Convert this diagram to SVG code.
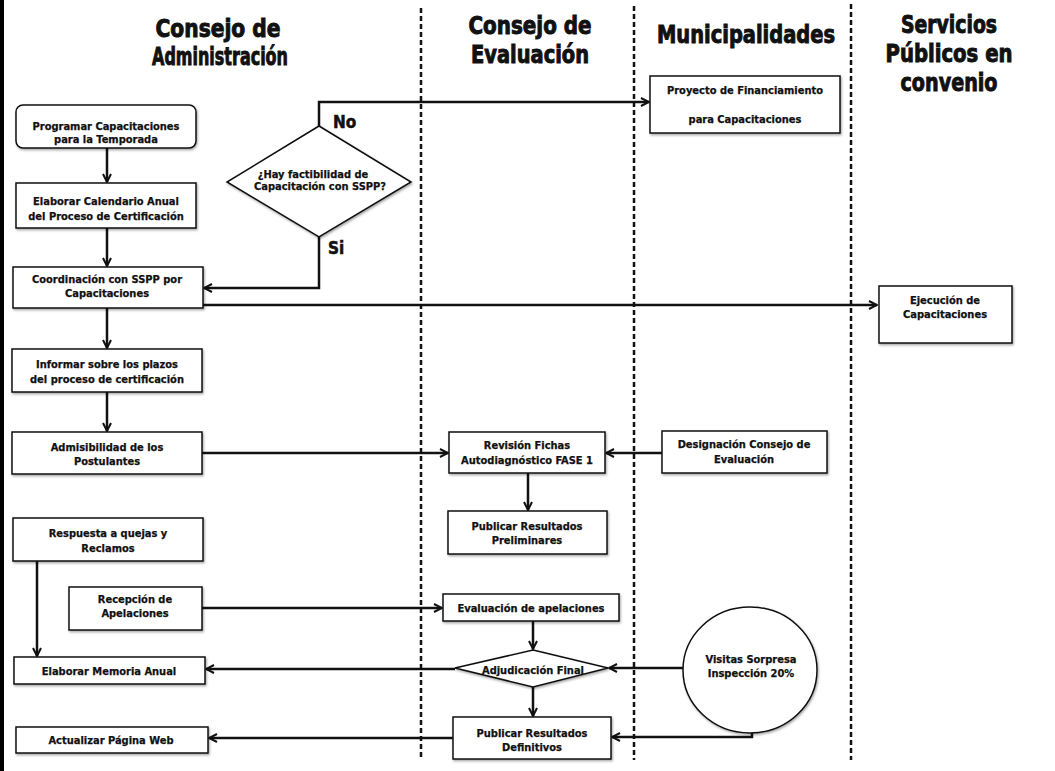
<svg xmlns="http://www.w3.org/2000/svg" width="1055" height="771" viewBox="0 0 1055 771">
<style>
.bg{fill:#fff}
.box{fill:#fff;stroke:#111;stroke-width:1.5;filter:url(#sh)}
.t{font-family:"DejaVu Sans Condensed","DejaVu Sans",sans-serif;font-stretch:condensed;font-weight:bold;font-size:11px;fill:#111;stroke:#111;stroke-width:0.25;text-anchor:middle}
.h{font-family:"DejaVu Sans Condensed","DejaVu Sans",sans-serif;font-stretch:condensed;font-weight:bold;font-size:24px;fill:#111;stroke:#111;stroke-width:0.9;text-anchor:middle}
.lbl{font-family:"DejaVu Sans Condensed","DejaVu Sans",sans-serif;font-stretch:condensed;font-weight:bold;font-size:17px;fill:#111;stroke:#111;stroke-width:0.5}
.lane{stroke:#111;stroke-width:2.5;stroke-dasharray:5 3;fill:none}
.ca{stroke:#111;stroke-width:2.5;fill:none;marker-end:url(#ah)}
</style>
<defs>
<filter id="sh" x="-10%" y="-10%" width="120%" height="130%">
<feDropShadow dx="1" dy="1.5" stdDeviation="1" flood-color="#000" flood-opacity="0.35"/>
</filter>
<marker id="ah" viewBox="0 0 10 10" refX="9" refY="5" markerWidth="4" markerHeight="4" orient="auto" markerUnits="strokeWidth">
<path d="M1,1 L9,5 L1,9" fill="none" stroke="#111" stroke-width="2"/>
</marker>
</defs>
<rect class="bg" x="0" y="0" width="1055" height="771"/>
<rect x="0" y="0" width="4" height="771" fill="#000"/>

<g id="lanes">
<line class="lane" x1="421" y1="8" x2="421" y2="760"/>
<line class="lane" x1="634" y1="6" x2="634" y2="760"/>
<line class="lane" x1="851" y1="4" x2="851" y2="760"/>
</g>

<g id="headers">
<text class="h" x="218" y="37" textLength="125" lengthAdjust="spacingAndGlyphs">Consejo de</text>
<text class="h" x="220" y="65" textLength="136" lengthAdjust="spacingAndGlyphs">Administración</text>
<text class="h" x="530" y="34" textLength="123" lengthAdjust="spacingAndGlyphs">Consejo de</text>
<text class="h" x="530" y="63" textLength="118" lengthAdjust="spacingAndGlyphs">Evaluación</text>
<text class="h" x="746" y="43" font-size="26" textLength="178" lengthAdjust="spacingAndGlyphs">Municipalidades</text>
<text class="h" x="949" y="33" font-size="25" textLength="96" lengthAdjust="spacingAndGlyphs">Servicios</text>
<text class="h" x="949" y="62" font-size="25" textLength="127" lengthAdjust="spacingAndGlyphs">Públicos en</text>
<text class="h" x="949" y="91" font-size="25" textLength="97" lengthAdjust="spacingAndGlyphs">convenio</text>
</g>

<g id="connectors">
<line class="ca" x1="107" y1="148" x2="107" y2="182"/>
<line class="ca" x1="107" y1="228" x2="107" y2="266"/>
<line class="ca" x1="107" y1="308" x2="107" y2="348"/>
<line class="ca" x1="107" y1="392" x2="107" y2="431"/>
<polyline class="ca" points="319,126 319,102 649,102"/>
<polyline class="ca" points="319,237 319,288 204,288"/>
<line class="ca" x1="203" y1="305" x2="877" y2="305"/>
<line class="ca" x1="202" y1="453" x2="448" y2="453"/>
<line class="ca" x1="662" y1="453" x2="606" y2="453"/>
<line class="ca" x1="528" y1="473" x2="528" y2="510"/>
<line class="ca" x1="37" y1="561" x2="37" y2="656"/>
<line class="ca" x1="202" y1="608" x2="442" y2="608"/>
<line class="ca" x1="533" y1="621" x2="533" y2="649"/>
<line class="ca" x1="455" y1="669" x2="206" y2="669"/>
<line class="ca" x1="683" y1="668" x2="609" y2="668"/>
<line class="ca" x1="533" y1="687" x2="533" y2="716"/>
<line class="ca" x1="453" y1="738" x2="209" y2="738"/>
<polyline class="ca" points="752,732 752,737 612,737"/>
</g>

<g id="n1"><rect class="box" x="16" y="105" width="180" height="43" rx="7"/>
<text class="t" x="106" y="130">Programar Capacitaciones</text><text class="t" x="106" y="143">para la Temporada</text></g>
<g id="n2"><rect class="box" x="16" y="183" width="180" height="45"/>
<text class="t" x="106" y="205">Elaborar Calendario Anual</text><text class="t" x="106" y="220">del Proceso de Certificación</text></g>
<g id="n3"><rect class="box" x="13" y="267" width="190" height="41"/>
<text class="t" x="107" y="283">Coordinación con SSPP por</text><text class="t" x="107" y="297">Capacitaciones</text></g>
<g id="n4"><rect class="box" x="12" y="349" width="190" height="43"/>
<text class="t" x="107" y="368">Informar sobre los plazos</text><text class="t" x="107" y="383">del proceso de certificación</text></g>
<g id="n5"><rect class="box" x="12" y="432" width="190" height="42"/>
<text class="t" x="107" y="451">Admisibilidad de los</text><text class="t" x="107" y="465">Postulantes</text></g>
<g id="n6"><rect class="box" x="13" y="518" width="190" height="43"/>
<text class="t" x="108" y="537">Respuesta a quejas y</text><text class="t" x="108" y="552">Reclamos</text></g>
<g id="n7"><rect class="box" x="69" y="587" width="133" height="43"/>
<text class="t" x="135" y="603">Recepción de</text><text class="t" x="135" y="617">Apelaciones</text></g>
<g id="n8"><rect class="box" x="14" y="657" width="191" height="27"/>
<text class="t" x="109" y="675">Elaborar Memoria Anual</text></g>
<g id="n9"><rect class="box" x="16" y="727" width="192" height="26"/>
<text class="t" x="111" y="744">Actualizar Página Web</text></g>

<g id="d1"><polygon class="box" points="319,126 411,182 319,237 227,182"/>
<text class="t" x="313" y="178" font-size="10.5">¿Hay factibilidad de</text>
<text class="t" x="320" y="190" font-size="10.5">Capacitación con SSPP?</text></g>
<g id="lblNo"><text class="lbl" x="333" y="128">No</text></g>
<g id="lblSi"><text class="lbl" x="328" y="254">Si</text></g>

<g id="n10"><rect class="box" x="650" y="76" width="190" height="57"/>
<text class="t" x="745" y="94" font-size="10.5">Proyecto de Financiamiento</text>
<text class="t" x="745" y="123" font-size="10.5">para Capacitaciones</text></g>
<g id="n11"><rect class="box" x="879" y="286" width="133" height="57"/>
<text class="t" x="945" y="304">Ejecución de</text><text class="t" x="945" y="318">Capacitaciones</text></g>
<g id="n12"><rect class="box" x="449" y="432" width="156" height="41"/>
<text class="t" x="527" y="449">Revisión Fichas</text><text class="t" x="527" y="464">Autodiagnóstico FASE 1</text></g>
<g id="n13"><rect class="box" x="662" y="431" width="165" height="42"/>
<text class="t" x="744" y="448">Designación Consejo de</text><text class="t" x="744" y="463">Evaluación</text></g>
<g id="n14"><rect class="box" x="448" y="511" width="159" height="43"/>
<text class="t" x="527" y="530">Publicar Resultados</text><text class="t" x="527" y="544">Preliminares</text></g>
<g id="n15"><rect class="box" x="443" y="594" width="176" height="27"/>
<text class="t" x="531" y="612">Evaluación de apelaciones</text></g>
<g id="d2"><polygon class="box" points="533,650 608,668 533,687 455,668"/>
<text class="t" x="533" y="674">Adjudicación Final</text></g>
<g id="n16"><rect class="box" x="453" y="717" width="158" height="42"/>
<text class="t" x="532" y="737">Publicar Resultados</text><text class="t" x="532" y="751">Definitivos</text></g>
<g id="n17"><ellipse class="box" cx="750" cy="670" rx="67" ry="63"/>
<text class="t" x="751" y="663">Visitas Sorpresa</text><text class="t" x="751" y="677">Inspección 20%</text></g>
</svg>
